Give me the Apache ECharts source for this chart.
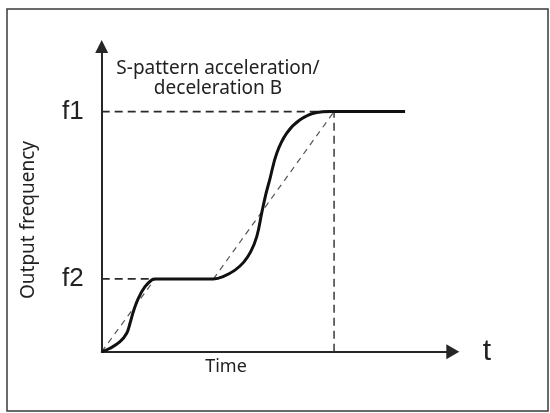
<!DOCTYPE html>
<html>
<head>
<meta charset="utf-8">
<script src="https://cdn.jsdelivr.net/npm/echarts@6/dist/echarts.min.js"></script>
<style>
html,body{margin:0;padding:0;background:#fff;}
#chart{width:550px;height:413px;}
</style>
</head>
<body>
<div id="chart"></div>
<script>
// Axis extents (data units)
var timeMax = 351;
var freqMax = 305;

// Frequency levels and tick labels
var levelValues = [72.7, 240];
var levelLabels = ['f2', 'f1'];

// S-pattern output frequency curve
var curveTime = [0, 8.3, 18.3, 25, 28.3, 31.6, 36.6, 43.3, 50, 53.3, 111.7, 121.3, 133.3, 142, 149, 155, 160, 164, 168, 175, 185, 198.3, 215, 228.3, 303.3];
var curveFreq = [0, 3.4, 10, 18.4, 28.4, 40, 53.4, 65, 71.7, 72.7, 72.7, 75, 81.5, 89.5, 100, 115, 138.7, 157, 172, 198.4, 218.4, 231.7, 239, 240, 240];

// Linear acceleration reference (dashed diagonals)
var linear1Time = [0, 53.3];
var linear1Freq = [0, 72.7];
var linear2Time = [111.7, 232.3];
var linear2Freq = [72.7, 240];

// Guide lines
var f1GuideTime = [0, 228.3];
var f2GuideTime = [0, 53.3];
var endTime = 232.3;

// Texts
var titleLines = ['S-pattern acceleration/', 'deceleration B'];
var yName = 'Output frequency';
var xName = 'Time';
var xEndName = 't';

function pairs(xs, ys) {
  return xs.map(function (x, i) { return [x, ys[i]]; });
}

var chart = echarts.init(document.getElementById('chart'), null, {renderer: 'canvas'});
var dashStyle = {color: '#2a2a2a', width: 1.7, type: [8, 5]};

chart.setOption({
  animation: false,
  backgroundColor: '#fff',
  grid: {left: 101.7, right: 97.2, top: 46.5, bottom: 61.3, containLabel: false},
  xAxis: {
    type: 'value', min: 0, max: timeMax,
    name: xEndName, nameLocation: 'end', nameGap: 30,
    nameTextStyle: {fontFamily: 'Liberation Sans', fontSize: 30, color: '#222', verticalAlign: 'middle'},
    axisLine: {show: true, symbol: ['none', 'triangle'], symbolSize: [15, 13], lineStyle: {color: '#262626', width: 2}},
    axisTick: {show: false}, axisLabel: {show: false}, splitLine: {show: false}
  },
  yAxis: {
    type: 'value', min: 0, max: freqMax,
    axisLine: {show: true, symbol: ['none', 'triangle'], symbolSize: [13, 13], lineStyle: {color: '#262626', width: 2}},
    axisTick: {show: false}, splitLine: {show: false},
    axisLabel: {
      show: true, customValues: levelValues, margin: 18,
      fontFamily: 'Liberation Sans', fontSize: 26, color: '#222',
      formatter: function (v) {
        for (var i = 0; i < levelValues.length; i++) { if (Math.abs(levelValues[i] - v) < 0.01) return levelLabels[i]; }
        return '';
      }
    }
  },
  graphic: [
    {type: 'rect', shape: {x: 7, y: 9, width: 541, height: 402}, style: {fill: 'none', stroke: '#3a3a3a', lineWidth: 1.5}, silent: true},
    {type: 'text', x: 218, y: 79, style: {text: titleLines.join('\n'), fontFamily: 'Noto Sans', fontSize: 19, lineHeight: 20, fill: '#222', align: 'center', verticalAlign: 'middle'}},
    {type: 'text', x: 226, y: 367, style: {text: xName, fontFamily: 'Noto Sans', fontSize: 18, fill: '#222', align: 'center', verticalAlign: 'middle'}},
    {type: 'text', x: 29, y: 220, rotation: Math.PI / 2, style: {text: yName, fontFamily: 'Noto Sans', fontSize: 19, fill: '#222', align: 'center', verticalAlign: 'middle'}}
  ],
  series: [
    {type: 'line', data: pairs(f1GuideTime, [levelValues[1], levelValues[1]]), symbol: 'none', lineStyle: dashStyle, z: 1},
    {type: 'line', data: pairs(f2GuideTime, [levelValues[0], levelValues[0]]), symbol: 'none', lineStyle: dashStyle, z: 1},
    {type: 'line', data: [[endTime, 0], [endTime, levelValues[1]]], symbol: 'none', lineStyle: {color: '#2a2a2a', width: 1.4, type: [8, 5]}, z: 1},
    {type: 'line', data: pairs(linear1Time, linear1Freq), symbol: 'none', lineStyle: {color: '#555', width: 1.2, type: [6, 5]}, z: 1},
    {type: 'line', data: pairs(linear2Time, linear2Freq), symbol: 'none', lineStyle: {color: '#555', width: 1.2, type: [6, 5]}, z: 1},
    {type: 'line', data: pairs(curveTime, curveFreq), symbol: 'none', smooth: 0.4, lineStyle: {color: '#111', width: 3}, z: 3}
  ]
});
</script>
</body>
</html>
